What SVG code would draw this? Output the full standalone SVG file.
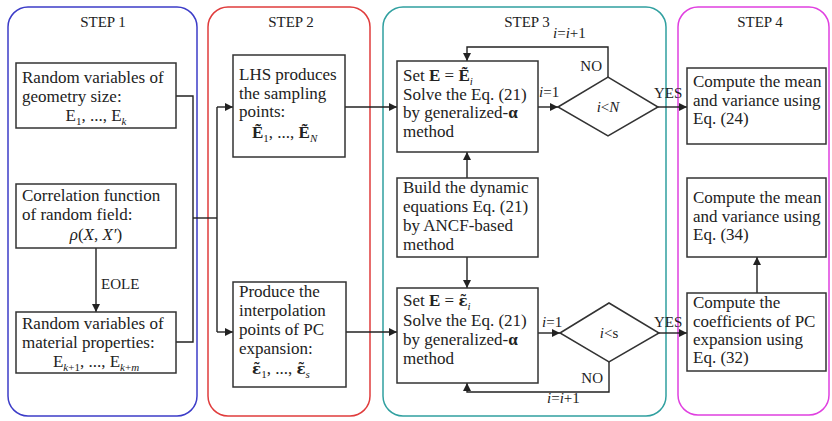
<svg xmlns="http://www.w3.org/2000/svg" width="832" height="421" viewBox="0 0 832 421" font-family="'Liberation Serif', 'DejaVu Serif', serif">
<defs>
<marker id="ah" viewBox="0 0 10 10" refX="10" refY="5" markerWidth="8" markerHeight="8" markerUnits="userSpaceOnUse" orient="auto">
<path d="M0,0 L10,5 L0,10 z" fill="#222"/>
</marker>
<style>
text{font-family:'Liberation Serif','DejaVu Serif',serif;fill:#222;}
.t{font-size:17px;}
.h{font-size:15px;}
.l{font-size:15px;}
.sub{font-size:11px;}
.it{font-style:italic;}
.b{font-weight:bold;}
.eps{font-family:'DejaVu Serif',serif;font-weight:bold;font-size:15px;}
.box{fill:#fff;stroke:#333;stroke-width:1.5;}
.panel{fill:#fff;stroke-width:1.5;}
.c{fill:none;stroke:#222;stroke-width:1.4;}
.ca{fill:none;stroke:#222;stroke-width:1.4;marker-end:url(#ah);}
</style>
</defs>
<rect width="832" height="421" fill="#fff"/>

<g id="panels">
<rect class="panel" x="8" y="7" width="189" height="409" rx="20" stroke="#3c3cc8"/>
<rect class="panel" x="208" y="7" width="162" height="409" rx="20" stroke="#e03c3c"/>
<rect class="panel" x="383" y="7" width="283" height="409" rx="20" stroke="#30a0a0"/>
<rect class="panel" x="678" y="7" width="151" height="408" rx="20" stroke="#e040e0"/>
<text class="h" x="103" y="27" text-anchor="middle">STEP 1</text>
<text class="h" x="291" y="27" text-anchor="middle">STEP 2</text>
<text class="h" x="527" y="27" text-anchor="middle">STEP 3</text>
<text class="h" x="760" y="27" text-anchor="middle">STEP 4</text>
</g>

<g id="connectors">
<polyline class="c" points="176,96 193,96 193,342 176,342"/>
<polyline class="c" points="193,218 217,218"/>
<polyline class="c" points="217,107 217,332"/>
<line class="ca" x1="217" y1="107" x2="233" y2="107"/>
<line class="ca" x1="217" y1="332" x2="233" y2="332"/>
<line class="ca" x1="96" y1="248" x2="96" y2="312"/>
<text class="l" x="101" y="289">EOLE</text>
<line class="ca" x1="345" y1="107" x2="397" y2="107"/>
<line class="ca" x1="346" y1="332" x2="397" y2="332"/>
<line class="ca" x1="538" y1="107" x2="558" y2="107"/>
<text class="l" x="539" y="97"><tspan class="it">i</tspan>=1</text>
<polyline class="ca" points="608,77 608,47 467,47 467,61"/>
<text class="l" x="602" y="71" text-anchor="end">NO</text>
<text class="l" x="553" y="38"><tspan class="it">i</tspan>=<tspan class="it">i</tspan>+1</text>
<line class="ca" x1="658" y1="107" x2="687" y2="107"/>
<text class="l" x="654" y="98">YES</text>
<line class="ca" x1="467" y1="178" x2="467" y2="152"/>
<line class="ca" x1="467" y1="257" x2="467" y2="288"/>
<line class="ca" x1="538" y1="333" x2="560" y2="333"/>
<text class="l" x="542" y="327"><tspan class="it">i</tspan>=1</text>
<polyline class="ca" points="609,362 609,392 467,392 467,383"/>
<text class="l" x="603" y="383" text-anchor="end">NO</text>
<text class="l" x="547" y="403"><tspan class="it">i</tspan>=<tspan class="it">i</tspan>+1</text>
<line class="ca" x1="659" y1="333" x2="687" y2="333"/>
<text class="l" x="654" y="327">YES</text>
<line class="ca" x1="757" y1="293" x2="757" y2="257"/>
</g>

<g id="n_geom">
<rect class="box" x="16" y="63" width="160" height="65"/>
<text class="t" x="22" y="83">Random variables of</text>
<text class="t" x="22" y="102">geometry size:</text>
<text class="t" x="96" y="121" text-anchor="middle">E<tspan class="sub" dy="4">1</tspan><tspan dy="-4">, ..., E</tspan><tspan class="sub it" dy="4">k</tspan></text>
</g>

<g id="n_corr">
<rect class="box" x="16" y="184" width="160" height="64"/>
<text class="t" x="22" y="201">Correlation function</text>
<text class="t" x="22" y="220">of random field:</text>
<text class="t" x="96" y="240" text-anchor="middle"><tspan class="it">ρ</tspan>(<tspan class="it">X</tspan>, <tspan class="it">X′</tspan>)</text>
</g>

<g id="n_mat">
<rect class="box" x="16" y="312" width="160" height="61"/>
<text class="t" x="22" y="329">Random variables of</text>
<text class="t" x="22" y="348">material properties:</text>
<text class="t" x="96" y="367" text-anchor="middle">E<tspan class="sub it" dy="4">k</tspan><tspan class="sub">+1</tspan><tspan dy="-4">, ..., E</tspan><tspan class="sub it" dy="4">k</tspan><tspan class="sub">+</tspan><tspan class="sub it">m</tspan></text>
</g>

<g id="n_lhs">
<rect class="box" x="233" y="55" width="112" height="102"/>
<text class="t" x="239" y="80">LHS produces</text>
<text class="t" x="239" y="99">the sampling</text>
<text class="t" x="239" y="117">points:</text>
<text class="t" x="252" y="138"><tspan class="b">Ẽ</tspan><tspan class="sub" dy="4">1</tspan><tspan dy="-4">, ..., </tspan><tspan class="b">Ẽ</tspan><tspan class="sub it" dy="4">N</tspan></text>
</g>

<g id="n_interp">
<rect class="box" x="233" y="282" width="113" height="105"/>
<text class="t" x="239" y="297">Produce the</text>
<text class="t" x="239" y="316">interpolation</text>
<text class="t" x="239" y="335">points of PC</text>
<text class="t" x="239" y="354">expansion:</text>
<text class="t" x="252" y="374"><tspan class="eps">ε̃</tspan><tspan class="sub" dy="4">1</tspan><tspan dy="-4">, ..., </tspan><tspan class="eps">ε̃</tspan><tspan class="sub it" dy="4">s</tspan></text>
</g>

<g id="n_solveN">
<rect class="box" x="397" y="61" width="141" height="91"/>
<text class="t" x="403" y="81">Set  <tspan class="b">E</tspan> = <tspan class="b">Ẽ</tspan><tspan class="sub it" dy="4">i</tspan></text>
<text class="t" x="403" y="100">Solve the Eq. (21)</text>
<text class="t" x="403" y="118">by generalized-<tspan class="b">α</tspan></text>
<text class="t" x="403" y="137">method</text>
</g>

<g id="n_condN">
<polygon class="box" points="558,107 608,77 658,107 608,136"/>
<text class="l" x="608" y="112" text-anchor="middle"><tspan class="it">i</tspan>&lt;<tspan class="it">N</tspan></text>
</g>

<g id="n_build">
<rect class="box" x="397" y="178" width="141" height="79"/>
<text class="t" x="403" y="193">Build the dynamic</text>
<text class="t" x="403" y="212">equations Eq. (21)</text>
<text class="t" x="403" y="231">by ANCF-based</text>
<text class="t" x="403" y="250">method</text>
</g>

<g id="n_solveS">
<rect class="box" x="397" y="288" width="141" height="95"/>
<text class="t" x="403" y="306">Set  <tspan class="b">E</tspan> = <tspan class="eps">ε̃</tspan><tspan class="sub it" dy="4">i</tspan></text>
<text class="t" x="403" y="326">Solve the Eq. (21)</text>
<text class="t" x="403" y="345">by generalized-<tspan class="b">α</tspan></text>
<text class="t" x="403" y="364">method</text>
</g>

<g id="n_condS">
<polygon class="box" points="560,333 609,303 659,333 609,362"/>
<text class="l" x="609" y="338" text-anchor="middle"><tspan class="it">i</tspan>&lt;s</text>
</g>

<g id="n_mean24">
<rect class="box" x="687" y="68" width="139" height="76"/>
<text class="t" x="693" y="87">Compute the mean</text>
<text class="t" x="693" y="106">and variance using</text>
<text class="t" x="693" y="124">Eq. (24)</text>
</g>

<g id="n_mean34">
<rect class="box" x="687" y="178" width="139" height="79"/>
<text class="t" x="693" y="203">Compute the mean</text>
<text class="t" x="693" y="222">and variance using</text>
<text class="t" x="693" y="240">Eq. (34)</text>
</g>

<g id="n_coef">
<rect class="box" x="687" y="293" width="139" height="78"/>
<text class="t" x="693" y="308">Compute the</text>
<text class="t" x="693" y="327">coefficients of PC</text>
<text class="t" x="693" y="345">expansion using</text>
<text class="t" x="693" y="363">Eq. (32)</text>
</g>
</svg>
